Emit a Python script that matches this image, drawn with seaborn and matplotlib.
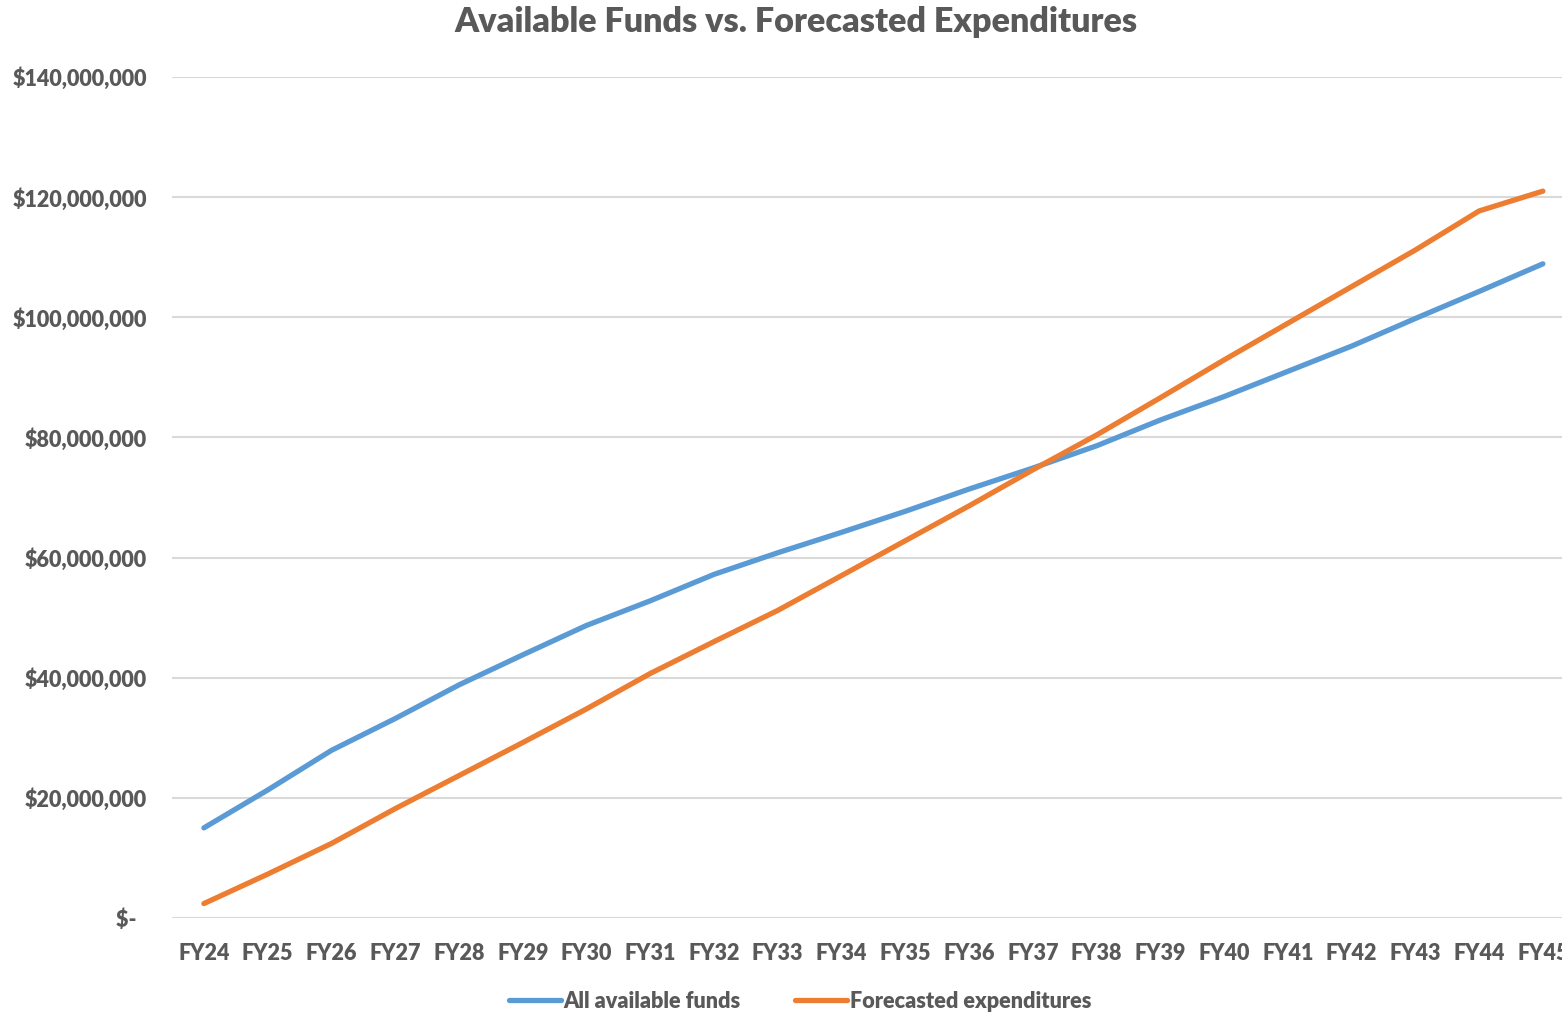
import matplotlib
matplotlib.use("Agg")
import matplotlib.pyplot as plt
import seaborn as sns
import pandas as pd

years = ["FY24", "FY25", "FY26", "FY27", "FY28", "FY29", "FY30", "FY31", "FY32", "FY33", "FY34",
         "FY35", "FY36", "FY37", "FY38", "FY39", "FY40", "FY41", "FY42", "FY43", "FY44", "FY45"]
available_funds = [15.0, 21.3, 27.9, 33.2, 38.8, 43.8, 48.7, 52.8, 57.2, 60.8, 64.2,
                   67.7, 71.4, 74.9, 78.6, 82.9, 86.8, 91.0, 95.2, 99.8, 104.3, 108.9]  # $M
forecast_exp = [2.4, 7.3, 12.4, 18.2, 23.7, 29.2, 34.8, 40.7, 46.0, 51.2, 57.0,
                62.8, 68.6, 74.6, 80.4, 86.6, 92.9, 99.0, 105.1, 111.2, 117.7, 121.0]  # $M
series_names = ["All available funds", "Forecasted expenditures"]
y_ticks = [0, 20, 40, 60, 80, 100, 120, 140]

sns.set_theme(style="white")
plt.rcParams["font.family"] = ["Lato", "DejaVu Sans"]
plt.rcParams["font.weight"] = "bold"

TXT = "#595959"
WEIGHT = "heavy"
colors = ["#5B9BD5", "#ED7D31"]

df = pd.DataFrame({
    "idx": list(range(len(years))) * 2,
    "value": [v * 1e6 for v in available_funds] + [v * 1e6 for v in forecast_exp],
    "series": [series_names[0]] * len(years) + [series_names[1]] * len(years),
})

fig = plt.figure(figsize=(15.62, 10.13), dpi=100)
W, H = 1562, 1013
ax = fig.add_axes([172 / W, (H - 918) / H, (1562 - 172) / W, (918 - 77) / H])

sns.lineplot(data=df, x="idx", y="value", hue="series", palette=colors,
             linewidth=3.8, ax=ax, legend=False, sort=False)
for ln in ax.get_lines():
    ln.set_solid_capstyle("round")
    ln.set_solid_joinstyle("round")

ax.set_xlim(-0.5, 21.3)
ax.set_ylim(0, 140e6)
ax.set_yticks([t * 1e6 for t in y_ticks])
ax.set_yticklabels(["$-  "] + [f"${t * 1e6:,.0f}" for t in y_ticks[1:]])
ax.set_xticks(range(len(years)))
ax.set_xticklabels(years)
ax.yaxis.grid(True, color="#D9D9D9", linewidth=1.5)
ax.set_axisbelow(True)
for s in ax.spines.values():
    s.set_visible(False)
ax.tick_params(axis="both", length=0, labelsize=15.5, labelcolor=TXT)
ax.tick_params(axis="y", pad=18)
ax.tick_params(axis="x", pad=18)
for lab in ax.get_xticklabels() + ax.get_yticklabels():
    lab.set_fontweight(WEIGHT)
ax.set_xlabel("")
ax.set_ylabel("")

fig.text(796 / W, 1 - 22 / H, "Available Funds vs. Forecasted Expenditures",
         ha="center", va="center", fontsize=24.6, fontweight=WEIGHT, color=TXT)

handles = ax.get_lines()[:2]
leg = fig.legend(handles, series_names, loc="center", bbox_to_anchor=(800 / W, 1 - 1001 / H),
                 ncol=2, frameon=False, fontsize=15.6, handlelength=2.4, handletextpad=0.12,
                 columnspacing=2.5)
for t in leg.get_texts():
    t.set_color(TXT)
    t.set_fontweight(WEIGHT)

fig.savefig("out.png", dpi=100)
